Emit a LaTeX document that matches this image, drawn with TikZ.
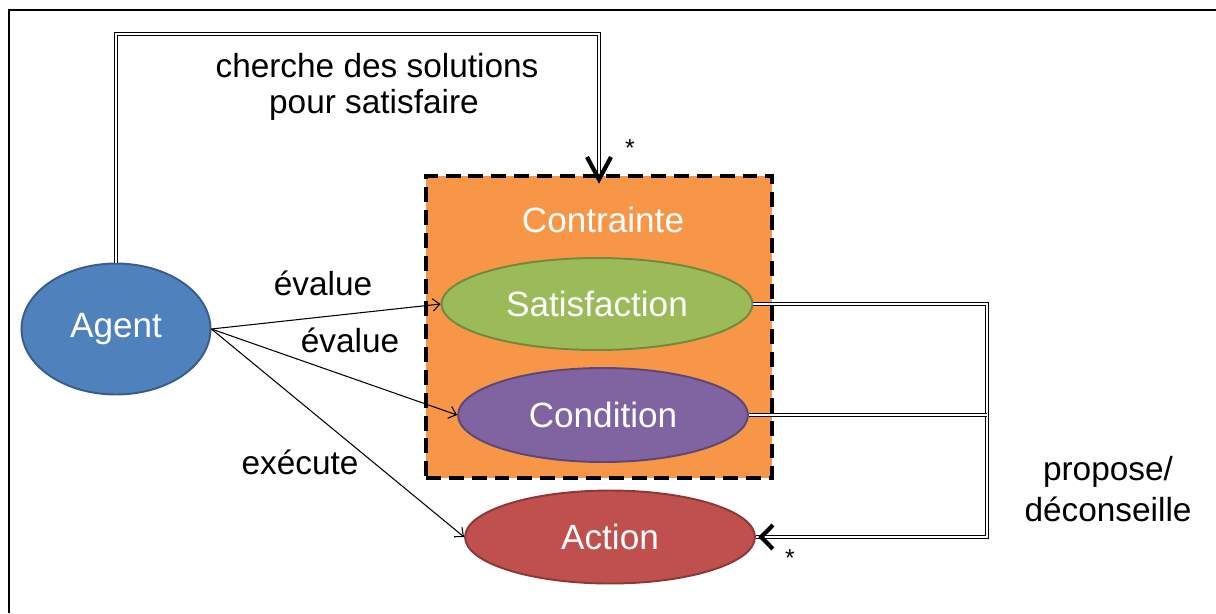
\documentclass[tikz,border=0pt]{standalone}
\usepackage{fontspec}
\setmainfont{Liberation Sans}
\usetikzlibrary{arrows.meta,shapes.geometric,calc}
\definecolor{agentfill}{HTML}{4F81BD}
\definecolor{agentline}{HTML}{385D8A}
\definecolor{satfill}{HTML}{9BBB59}
\definecolor{satline}{HTML}{71893F}
\definecolor{condfill}{HTML}{8064A2}
\definecolor{condline}{HTML}{5C4776}
\definecolor{actfill}{HTML}{C0504D}
\definecolor{actline}{HTML}{8C3836}
\definecolor{boxfill}{HTML}{F79646}

\begin{document}
\begin{tikzpicture}[x=0.02cm,y=-0.02cm,>={Straight Barb[length=4pt,width=7pt]},
  font=\fontsize{20}{24}\selectfont, inner sep=0pt,
  elem/.style={ellipse, draw, line width=1.1pt, text=white},
  link/.style={double, line width=0.6pt, double distance=1.1pt},
  vtip/.style={line width=2.4pt},
  lbl/.style={font=\fontsize{19}{23}\selectfont},
  star/.style={font=\fontsize{14}{14}\selectfont}]
  \useasboundingbox (0,0) rectangle (1216,613);
  \draw[line width=1.4pt] (9,613) -- (9,10) -- (1216,10);

  \node [draw, fill=boxfill, line width=2.3pt, dash pattern=on 8.5pt off 4.5pt,
    minimum width=6.92cm, minimum height=6.04cm] (1) at (599,327) {};
  \node [text=white] (2) at (603,220) {Contrainte};
  \node [elem, fill=agentfill, draw=agentline, minimum width=3.78cm, minimum height=2.62cm] (0) at (116,329) {Agent};
  \node [elem, fill=satfill, draw=satline, minimum width=6.22cm, minimum height=1.84cm] (3) at (597,304) {Satisfaction};
  \node [elem, fill=condfill, draw=condline, minimum width=5.8cm, minimum height=1.88cm] (4) at (603,415) {Condition};
  \node [elem, fill=actfill, draw=actline, minimum width=5.8cm, minimum height=1.86cm] (5) at (610,537) {Action};

  \node [lbl] (6) at (377,66) {cherche des solutions};
  \node [lbl] (7) at (374,105) {pour satisfaire};
  \node [lbl] (8) at (323,283) {évalue};
  \node [lbl] (9) at (350,340) {évalue};
  \node [lbl] (10) at (300,462) {exécute};
  \node [lbl, align=center] (11) at (1108,489) {propose/\\déconseille};
  \node [star] (12) at (630,148) {*};
  \node [star] (13) at (790,558) {*};

  \path[->, line width=0.6pt] (0.east) edge (3.west);
  \path[->, line width=0.6pt] (0.east) edge (4.west);
  \path[->, line width=0.6pt] (0.east) edge (5.west);

  \coordinate (r) at ($(3.east)+(234,0)$);
  \draw[link] (0.north) -- ++(0,-229) -| (1.north);
  \draw[link] (3.east) -- (r) |- (5.east);
  \draw[link] (4.east) -- (4.east -| r);
  \draw[vtip] ([shift={(-12,-17)}]1.north) -- ([yshift=-3]1.north) -- ([shift={(12,-17)}]1.north);
  \draw[vtip] ([shift={(17,-12)}]5.east) -- ([xshift=3]5.east) -- ([shift={(17,12)}]5.east);
\end{tikzpicture}
\end{document}
